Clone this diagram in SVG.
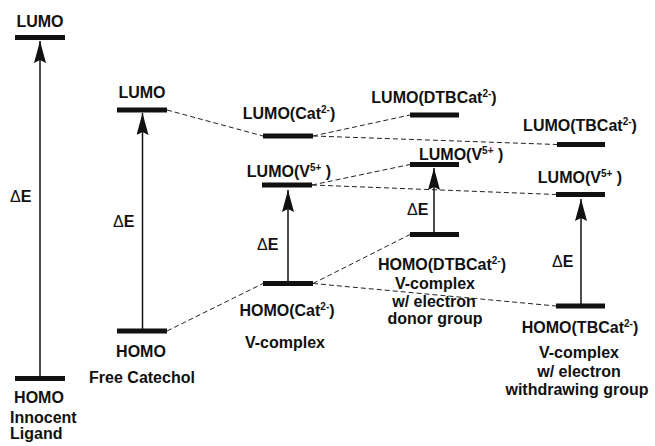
<svg xmlns="http://www.w3.org/2000/svg" width="655" height="446" viewBox="0 0 655 446">
  <style>
    text { font-family: "Liberation Sans", Arial, sans-serif; font-weight: bold; font-size: 16px; fill: #111; }
    .c { text-anchor: middle; }
    .d { font-weight: normal; }
    .sup { font-size: 10px; }
    .bar { fill: #111; }
    .gap { stroke: #111; stroke-width: 1.5; fill: none; marker-end: url(#head); }
    .corr { stroke: #222; stroke-width: 1; stroke-dasharray: 5 3; fill: none; }
  </style>
  <defs>
    <marker id="head" markerUnits="userSpaceOnUse" markerWidth="22" markerHeight="12" viewBox="0 0 22 12" refX="22" refY="6" orient="auto">
      <path d="M0,0 L22,6 L0,12 L3,6 Z" fill="#111"/>
    </marker>
  </defs>

  <rect width="655" height="446" fill="#fff"/>

  <!-- correlation lines between levels -->
  <g id="connectors">
    <line class="corr" x1="167" y1="110" x2="263" y2="136"/>
    <line class="corr" x1="167" y1="331" x2="263" y2="283.5"/>
    <line class="corr" x1="313" y1="136" x2="410" y2="115"/>
    <line class="corr" x1="313" y1="136" x2="557" y2="144.5"/>
    <line class="corr" x1="312" y1="185" x2="410" y2="164.5"/>
    <line class="corr" x1="312" y1="185" x2="556" y2="194.5"/>
    <line class="corr" x1="313" y1="283.5" x2="410" y2="234.5"/>
    <line class="corr" x1="313" y1="283.5" x2="556" y2="306"/>
  </g>

  <!-- innocent ligand -->
  <g id="innocent">
    <text class="c" x="40" y="27">LUMO</text>
    <rect class="bar" x="15" y="35" width="50" height="5"/>
    <line class="gap" x1="40" y1="376" x2="40" y2="41"/>
    <text x="10" y="202"><tspan class="d">Δ</tspan>E</text>
    <rect class="bar" x="15" y="376" width="50" height="5"/>
    <text class="c" x="39" y="403">HOMO</text>
    <text x="10" y="423">Innocent</text>
    <text x="10" y="439">Ligand</text>
  </g>

  <!-- free catechol -->
  <g id="free-catechol">
    <text class="c" x="142" y="98">LUMO</text>
    <rect class="bar" x="117" y="107.5" width="50" height="5"/>
    <line class="gap" x1="142.5" y1="329" x2="142.5" y2="113"/>
    <text x="113" y="227"><tspan class="d">Δ</tspan>E</text>
    <rect class="bar" x="117" y="328.5" width="50" height="5"/>
    <text class="c" x="141" y="357">HOMO</text>
    <text class="c" x="142" y="383">Free Catechol</text>
  </g>

  <!-- V-complex -->
  <g id="v-complex">
    <text class="c" x="289" y="119">LUMO(Cat<tspan class="sup" dy="-6">2-</tspan><tspan dy="6">)</tspan></text>
    <rect class="bar" x="263" y="133.5" width="50" height="5"/>
    <text class="c" x="289" y="177">LUMO(V<tspan class="sup" dy="-6">5+</tspan><tspan dy="6"> )</tspan></text>
    <rect class="bar" x="262" y="182.5" width="50" height="5"/>
    <line class="gap" x1="288" y1="282" x2="288" y2="190"/>
    <text x="257" y="250"><tspan class="d">Δ</tspan>E</text>
    <rect class="bar" x="263" y="281" width="50" height="5"/>
    <text class="c" x="287" y="316">HOMO(Cat<tspan class="sup" dy="-6">2-</tspan><tspan dy="6">)</tspan></text>
    <text class="c" x="285" y="348">V-complex</text>
  </g>

  <!-- V-complex with electron donor group -->
  <g id="v-complex-donor">
    <text class="c" x="434" y="103">LUMO(DTBCat<tspan class="sup" dy="-6">2-</tspan><tspan dy="6">)</tspan></text>
    <rect class="bar" x="410" y="112.5" width="49" height="5"/>
    <text x="419" y="160">LUMO(V<tspan class="sup" dy="-6">5+</tspan><tspan dy="6"> )</tspan></text>
    <rect class="bar" x="410" y="162" width="49" height="5"/>
    <line class="gap" x1="434" y1="233" x2="434" y2="168"/>
    <text x="407" y="215"><tspan class="d">Δ</tspan>E</text>
    <rect class="bar" x="410" y="232" width="49" height="5"/>
    <text class="c" x="442" y="270">HOMO(DTBCat<tspan class="sup" dy="-6">2-</tspan><tspan dy="6">)</tspan></text>
    <text class="c" x="435" y="289">V-complex</text>
    <text class="c" x="434" y="307">w/ electron</text>
    <text class="c" x="435" y="324">donor group</text>
  </g>

  <!-- V-complex with electron withdrawing group -->
  <g id="v-complex-withdrawing">
    <text class="c" x="580" y="131">LUMO(TBCat<tspan class="sup" dy="-6">2-</tspan><tspan dy="6">)</tspan></text>
    <rect class="bar" x="557" y="142" width="48" height="5"/>
    <text class="c" x="580" y="183">LUMO(V<tspan class="sup" dy="-6">5+</tspan><tspan dy="6"> )</tspan></text>
    <rect class="bar" x="556" y="192" width="49" height="5"/>
    <line class="gap" x1="581" y1="304" x2="581" y2="199"/>
    <text x="552" y="267"><tspan class="d">Δ</tspan>E</text>
    <rect class="bar" x="556" y="303.5" width="49" height="5"/>
    <text class="c" x="580" y="333">HOMO(TBCat<tspan class="sup" dy="-6">2-</tspan><tspan dy="6">)</tspan></text>
    <text class="c" x="579" y="358">V-complex</text>
    <text class="c" x="579" y="377">w/ electron</text>
    <text class="c" x="577" y="395">withdrawing group</text>
  </g>
</svg>
